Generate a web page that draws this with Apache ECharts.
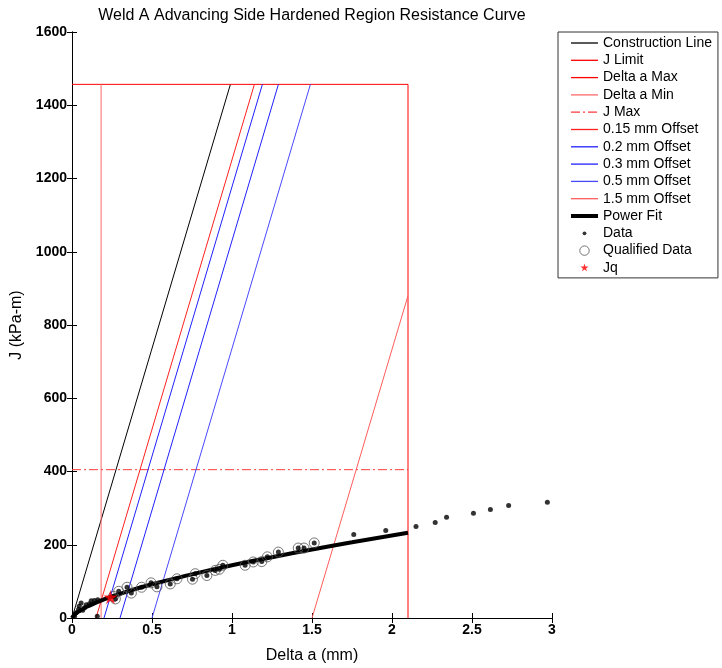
<!DOCTYPE html>
<html>
<head>
<meta charset="utf-8">
<script src="https://cdn.jsdelivr.net/npm/echarts@6/dist/echarts.min.js"></script>
<style>
  html, body { margin: 0; padding: 0; background: #fff; }
  #chart { width: 722px; height: 668px; }
</style>
</head>
<body>
<div id="chart"></div>
<script>
// values (delta a in mm, J in kPa-m)
const xTicks = [0, 0.5, 1, 1.5, 2, 2.5, 3];
const yTicks = [0, 200, 400, 600, 800, 1000, 1200, 1400, 1600];

const constructionLine = [[0, 0], [0.99, 1457]];
const jLimit = [[0, 1457], [2.1, 1457]];
const deltaAMax = [[2.1, 0], [2.1, 1457]];
const deltaAMin = [[0.182, 0], [0.182, 1457]];
const jMax = [[0, 405], [2.1, 405]];
const offset015 = [[0.15, 0], [1.14, 1457]];
const offset02 = [[0.2, 0], [1.19, 1457]];
const offset03 = [[0.3, 0], [1.29, 1457]];
const offset05 = [[0.5, 0], [1.49, 1457]];
const offset15 = [[1.5, 0], [2.1, 880]];

const fitDelta = [0, 0.02, 0.05, 0.1, 0.2, 0.3, 0.5, 0.75, 1, 1.25, 1.5, 1.75, 2.1];
const fitJ = [0, 11, 20, 32, 51, 66, 92, 119, 144, 166, 187, 207, 233];

const earlyData = [
  [0.016, 5], [0.026, 14], [0.041, 23], [0.045, 32], [0.057, 41], [0.067, 21],
  [0.078, 28], [0.089, 36], [0.109, 39], [0.12, 47], [0.14, 48], [0.161, 50], [0.158, 5]
];
const qualifiedData = [
  [0.259, 59], [0.271, 52], [0.292, 73], [0.344, 84], [0.371, 68], [0.435, 84],
  [0.494, 96], [0.531, 85], [0.614, 93], [0.656, 107], [0.753, 106], [0.77, 121],
  [0.843, 116], [0.895, 130], [0.921, 133], [0.943, 144], [1.082, 144], [1.133, 153],
  [1.186, 154], [1.221, 167], [1.29, 180], [1.414, 191], [1.45, 191], [1.514, 205]
];
const laterData = [
  [1.761, 228], [1.961, 239], [2.15, 250], [2.27, 261], [2.341, 275],
  [2.509, 286], [2.615, 296], [2.729, 307], [2.971, 316]
];
const jqPoint = [[0.24, 57]];

const lineNames = [
  'Construction Line', 'J Limit', 'Delta a Max', 'Delta a Min', 'J Max',
  '0.15 mm Offset', '0.2 mm Offset', '0.3 mm Offset', '0.5 mm Offset', '1.5 mm Offset'
];

const font = "'Liberation Sans', Arial, sans-serif";
const starPath = 'path://M50,0L61.2,34.5L97.6,34.5L68.2,55.9L79.4,90.5L50,69.1L20.6,90.5L31.8,55.9L2.4,34.5L38.8,34.5Z';

const chart = echarts.init(document.getElementById('chart'));

function straight(name, data, color, type) {
  return {
    name: name,
    type: 'line',
    data: data,
    symbol: 'none',
    silent: true,
    itemStyle: { color: color },
    lineStyle: { color: color, width: 1, type: type || 'solid' },
    z: 2
  };
}

// legend entries for the lines: only the line, no marker
const legendLines = lineNames.map(n => ({ name: n, itemStyle: { opacity: 0 }, lineStyle: { width: 1.3 } }));

const option = {
  animation: false,
  title: {
    text: 'Weld A Advancing Side Hardened Region Resistance Curve',
    left: 312,
    top: 8,
    textAlign: 'center',
    padding: 0,
    textStyle: { fontFamily: font, fontSize: 16, fontWeight: 'normal', color: '#000' }
  },
  grid: { left: 72, right: 170, top: 32, bottom: 50, containLabel: false, outerBoundsMode: 'none' },
  legend: {
    orient: 'vertical',
    left: 558,
    top: 32,
    padding: [4, 6, 3, 11],
    itemWidth: 27,
    itemHeight: 12,
    itemGap: 3.3,
    borderColor: '#333',
    borderWidth: 1,
    backgroundColor: '#fff',
    selectedMode: false,
    textStyle: { fontFamily: font, fontSize: 14, color: '#000' },
    data: legendLines.concat([
      { name: 'Power Fit', lineStyle: { width: 4 }, itemStyle: { opacity: 0 } },
      { name: 'Data', icon: 'path://M0,0M14,14M4.8,7A2.2,2.2,0,1,1,9.2,7A2.2,2.2,0,1,1,4.8,7Z' },
      { name: 'Qualified Data', icon: 'path://M0,0M14,14M1.5,7A5.5,5.5,0,1,1,12.5,7A5.5,5.5,0,1,1,1.5,7Z', itemStyle: { borderWidth: 1 } },
      { name: 'Jq', icon: 'path://M-20,-20M120,120M50,0L61.2,34.5L97.6,34.5L68.2,55.9L79.4,90.5L50,69.1L20.6,90.5L31.8,55.9L2.4,34.5L38.8,34.5Z' }
    ])
  },
  xAxis: [
    {
      type: 'value', min: xTicks[0], max: xTicks[xTicks.length - 1], interval: 0.5,
      name: 'Delta a (mm)', nameLocation: 'middle', nameGap: 30,
      nameTextStyle: { fontFamily: font, fontSize: 16, color: '#000' },
      axisLine: { lineStyle: { color: '#000', width: 1 } },
      axisTick: { inside: true, length: 5, lineStyle: { color: '#000' } },
      axisLabel: { fontFamily: font, fontSize: 14, fontWeight: 'bold', color: '#000', margin: 5 },
      splitLine: { show: false }
    },
    {
      type: 'value', position: 'top', min: xTicks[0], max: xTicks[xTicks.length - 1], interval: 0.5,
      axisLine: { show: true, lineStyle: { color: '#000', width: 1 } },
      axisTick: { inside: true, length: 5, lineStyle: { color: '#000' } },
      axisLabel: { show: false },
      splitLine: { show: false }
    }
  ],
  yAxis: [
    {
      type: 'value', min: yTicks[0], max: yTicks[yTicks.length - 1], interval: 200,
      name: 'J (kPa-m)', nameLocation: 'middle', nameGap: 40, nameRotate: 90,
      nameTextStyle: { fontFamily: font, fontSize: 16, color: '#000' },
      axisLine: { show: true, lineStyle: { color: '#000', width: 1 } },
      axisTick: { show: true, inside: true, length: 5, lineStyle: { color: '#000' } },
      axisLabel: { fontFamily: font, fontSize: 14, fontWeight: 'bold', color: '#000', margin: 5, formatter: v => String(v) },
      splitLine: { show: false }
    },
    {
      type: 'value', position: 'right', min: yTicks[0], max: yTicks[yTicks.length - 1], interval: 200,
      axisLine: { show: true, lineStyle: { color: '#000', width: 1 } },
      axisTick: { show: true, inside: true, length: 5, lineStyle: { color: '#000' } },
      axisLabel: { show: false },
      splitLine: { show: false }
    }
  ],
  series: [
    straight('Construction Line', constructionLine, '#000000'),
    straight('J Limit', jLimit, '#ff0000'),
    straight('Delta a Max', deltaAMax, '#ff0000'),
    straight('Delta a Min', deltaAMin, '#ff6a6a'),
    straight('J Max', jMax, '#ff3c3c', [9, 3, 2, 3]),
    straight('0.15 mm Offset', offset015, '#ff2020'),
    straight('0.2 mm Offset', offset02, '#2020ff'),
    straight('0.3 mm Offset', offset03, '#2020ff'),
    straight('0.5 mm Offset', offset05, '#4848ff'),
    straight('1.5 mm Offset', offset15, '#ff5c5c'),
    {
      name: 'Power Fit',
      type: 'line',
      data: fitDelta.map((d, i) => [d, fitJ[i]]),
      symbol: 'none',
      smooth: true,
      itemStyle: { color: '#000' },
      lineStyle: { color: '#000', width: 4 },
      z: 3
    },
    {
      name: 'Data',
      type: 'scatter',
      data: earlyData.concat(qualifiedData, laterData),
      symbol: 'circle',
      symbolSize: 5,
      itemStyle: { color: '#000' },
      z: 5
    },
    {
      name: 'Qualified Data',
      type: 'scatter',
      data: qualifiedData,
      symbol: 'circle',
      symbolSize: 10,
      itemStyle: { color: 'rgba(0,0,0,0)', borderColor: '#555', borderWidth: 1 },
      z: 4
    },
    {
      name: 'Jq',
      type: 'scatter',
      data: jqPoint,
      symbol: starPath,
      symbolSize: 14,
      itemStyle: { color: '#ff0000' },
      z: 6
    }
  ]
};

chart.setOption(option);
</script>
</body>
</html>
